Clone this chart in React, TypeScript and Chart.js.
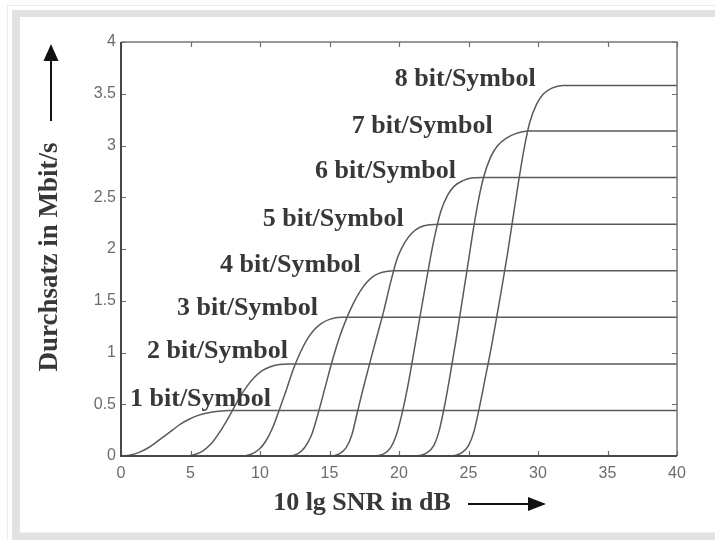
import React, { useEffect, useRef } from "react";
import { Chart, registerables } from "chart.js";

Chart.register(...registerables);

// ---- data ----
const xTicks = [0, 5, 10, 15, 20, 25, 30, 35, 40];
const yTicks = [0, 0.5, 1, 1.5, 2, 2.5, 3, 3.5, 4];

const curveLabels = [
  "1 bit/Symbol",
  "2 bit/Symbol",
  "3 bit/Symbol",
  "4 bit/Symbol",
  "5 bit/Symbol",
  "6 bit/Symbol",
  "7 bit/Symbol",
  "8 bit/Symbol",
];

const snr1 = [0, 0.7, 1.3, 1.9, 2.5, 3.1, 3.7, 4.3, 4.9, 5.5, 6.2, 7.0, 7.8, 40];
const thr1 = [0, 0.01, 0.035, 0.075, 0.13, 0.19, 0.25, 0.31, 0.355, 0.39, 0.415, 0.432, 0.44, 0.44];

const snr2 = [0, 4.6, 5.3, 5.9, 6.5, 7.1, 7.6, 8.1, 8.6, 9.1, 9.6, 10.1, 10.7, 11.4, 12.0, 40];
const thr2 = [0, 0, 0.015, 0.05, 0.12, 0.23, 0.34, 0.46, 0.58, 0.68, 0.76, 0.82, 0.86, 0.883, 0.89, 0.89];

const snr3 = [0, 8.6, 9.3, 9.9, 10.4, 10.9, 11.4, 11.9, 12.4, 12.9, 13.4, 13.9, 14.4, 15.0, 15.8, 40];
const thr3 = [0, 0, 0.015, 0.06, 0.14, 0.27, 0.45, 0.64, 0.84, 1.0, 1.13, 1.22, 1.28, 1.32, 1.34, 1.34];

const snr4 = [0, 12.0, 12.7, 13.2, 13.7, 14.2, 14.7, 15.2, 15.7, 16.2, 16.7, 17.2, 17.7, 18.2, 18.8, 19.6, 40];
const thr4 = [0, 0, 0.02, 0.08, 0.2, 0.42, 0.67, 0.92, 1.14, 1.32, 1.47, 1.59, 1.68, 1.74, 1.775, 1.79, 1.79];

const snr5 = [0, 15.0, 15.7, 16.2, 16.6, 17.0, 17.4, 17.9, 18.4, 18.9, 19.4, 19.9, 20.4, 20.9, 21.5, 22.2, 23.0, 40];
const thr5 = [0, 0, 0.02, 0.08, 0.2, 0.42, 0.64, 0.9, 1.15, 1.4, 1.68, 1.92, 2.06, 2.15, 2.21, 2.235, 2.24, 2.24];

const snr6 = [0, 18.1, 18.9, 19.4, 19.8, 20.2, 20.6, 21.0, 21.5, 22.0, 22.5, 23.0, 23.5, 24.0, 24.6, 25.2, 25.9, 40];
const thr6 = [0, 0, 0.02, 0.08, 0.2, 0.4, 0.65, 0.95, 1.34, 1.72, 2.08, 2.36, 2.52, 2.61, 2.66, 2.685, 2.69, 2.69];

const snr7 = [0, 21.1, 22.0, 22.5, 22.9, 23.3, 23.7, 24.1, 24.5, 24.9, 25.3, 25.7, 26.1, 26.6, 27.1, 27.7, 28.4, 29.3, 40];
const thr7 = [0, 0, 0.03, 0.1, 0.25, 0.5, 0.8, 1.12, 1.46, 1.8, 2.15, 2.46, 2.7, 2.89, 3.0, 3.07, 3.115, 3.14, 3.14];

const snr8 = [0, 23.6, 24.5, 25.0, 25.4, 25.8, 26.2, 26.6, 27.0, 27.4, 27.8, 28.2, 28.6, 29.0, 29.4, 29.9, 30.4, 31.0, 31.8, 40];
const thr8 = [0, 0, 0.03, 0.1, 0.24, 0.48, 0.75, 1.02, 1.32, 1.63, 1.95, 2.3, 2.65, 2.97, 3.22, 3.4, 3.5, 3.555, 3.58, 3.58];

const snrSeries = [snr1, snr2, snr3, snr4, snr5, snr6, snr7, snr8];
const thrSeries = [thr1, thr2, thr3, thr4, thr5, thr6, thr7, thr8];

// label anchors in data coordinates (left edge, vertical centre)
const labelSnr = [0.65, 1.87, 4.03, 7.12, 10.2, 13.96, 16.6, 19.7];
const labelThr = [0.55, 1.01, 1.43, 1.84, 2.29, 2.75, 3.19, 3.64];

const xTitle = "10 lg SNR in dB";
const yTitle = "Durchsatz in Mbit/s";

const W = 715;
const H = 540;

const overlayPlugin = {
  id: "overlay",
  afterDraw(chart: any) {
    const { ctx, chartArea, scales } = chart;
    const xs = scales.x;
    const ys = scales.y;
    const { left, right, top, bottom } = chartArea;
    ctx.save();

    // ticks (inward)
    ctx.strokeStyle = "#6a6a6a";
    ctx.lineWidth = 1.2;
    const tl = 5;
    xTicks.forEach((v) => {
      const px = Math.round(xs.getPixelForValue(v)) + 0.5;
      ctx.beginPath();
      ctx.moveTo(px, bottom);
      ctx.lineTo(px, bottom - tl);
      ctx.moveTo(px, top);
      ctx.lineTo(px, top + tl);
      ctx.stroke();
    });
    yTicks.forEach((v) => {
      const py = Math.round(ys.getPixelForValue(v)) + 0.5;
      ctx.beginPath();
      ctx.moveTo(left, py);
      ctx.lineTo(left + tl, py);
      ctx.moveTo(right, py);
      ctx.lineTo(right - tl, py);
      ctx.stroke();
    });

    // box
    ctx.strokeStyle = "#777";
    ctx.lineWidth = 1.5;
    ctx.beginPath();
    ctx.moveTo(left, top);
    ctx.lineTo(right, top);
    ctx.lineTo(right, bottom);
    ctx.stroke();
    ctx.strokeStyle = "#484848";
    ctx.lineWidth = 2;
    ctx.beginPath();
    ctx.moveTo(left, top);
    ctx.lineTo(left, bottom);
    ctx.lineTo(right, bottom);
    ctx.stroke();

    // curve labels
    ctx.fillStyle = "#383838";
    ctx.font = "bold 26px 'Liberation Serif', 'Times New Roman', serif";
    ctx.textAlign = "left";
    ctx.textBaseline = "middle";
    curveLabels.forEach((t, i) => {
      ctx.fillText(t, xs.getPixelForValue(labelSnr[i]), ys.getPixelForValue(labelThr[i]));
    });

    // x title + arrow
    ctx.textAlign = "center";
    ctx.font = "bold 26px 'Liberation Serif', 'Times New Roman', serif";
    ctx.fillText(xTitle, 362, 503);
    ctx.strokeStyle = "#111";
    ctx.fillStyle = "#111";
    ctx.lineWidth = 2;
    ctx.beginPath();
    ctx.moveTo(468, 504);
    ctx.lineTo(532, 504);
    ctx.stroke();
    ctx.beginPath();
    ctx.moveTo(546, 504);
    ctx.lineTo(528, 497);
    ctx.lineTo(528, 511);
    ctx.closePath();
    ctx.fill();

    // y title + arrow
    ctx.fillStyle = "#383838";
    ctx.save();
    ctx.translate(50, 257);
    ctx.rotate(-Math.PI / 2);
    ctx.font = "bold 27px 'Liberation Serif', 'Times New Roman', serif";
    ctx.textAlign = "center";
    ctx.textBaseline = "middle";
    ctx.fillText(yTitle, 0, 0);
    ctx.restore();
    ctx.fillStyle = "#111";
    ctx.beginPath();
    ctx.moveTo(51, 121);
    ctx.lineTo(51, 58);
    ctx.stroke();
    ctx.beginPath();
    ctx.moveTo(51, 44);
    ctx.lineTo(43.5, 61);
    ctx.lineTo(58.5, 61);
    ctx.closePath();
    ctx.fill();

    ctx.restore();
  },
};

export default function App() {
  const ref = useRef<HTMLCanvasElement | null>(null);

  useEffect(() => {
    document.body.style.margin = "0";
    const canvas = ref.current;
    if (!canvas) return;
    const datasets = snrSeries.map((xs, i) => ({
      label: curveLabels[i],
      data: xs.map((x, j) => ({ x, y: thrSeries[i][j] })),
      borderColor: "#5a5a5a",
      borderWidth: 1.5,
      pointRadius: 0,
      fill: false,
      cubicInterpolationMode: "monotone" as const,
    }));
    const chart = new Chart(canvas, {
      type: "line",
      data: { datasets },
      options: {
        responsive: false,
        animation: false,
        devicePixelRatio: 1,
        layout: { padding: { left: 60, top: 42, right: 38, bottom: 40 } },
        plugins: { legend: { display: false }, tooltip: { enabled: false } },
        scales: {
          x: {
            type: "linear",
            min: 0,
            max: 40,
            ticks: {
              stepSize: 5,
              padding: 8,
              color: "#6c6c6c",
              font: { family: "'Liberation Sans', Arial, sans-serif", size: 16 },
              callback: (v: any) => String(v),
            },
            grid: { display: false, drawTicks: false },
            border: { display: false },
            afterFit: (s: any) => {
              s.height = 44;
            },
          },
          y: {
            type: "linear",
            min: 0,
            max: 4,
            ticks: {
              stepSize: 0.5,
              padding: 5,
              color: "#6c6c6c",
              font: { family: "'Liberation Sans', Arial, sans-serif", size: 16 },
              callback: (v: any) => String(v),
            },
            grid: { display: false, drawTicks: false },
            border: { display: false },
            afterFit: (s: any) => {
              s.width = 61;
            },
          },
        },
      },
      plugins: [overlayPlugin],
    });
    return () => chart.destroy();
  }, []);

  const band = "#e2e2e2";
  return (
    <div style={{ position: "relative", width: W, height: H, background: "#fff", overflow: "hidden" }}>
      <div style={{ position: "absolute", left: 7, top: 5, right: 0, height: 1, background: "#ececec" }} />
      <div style={{ position: "absolute", left: 7, top: 5, width: 1, bottom: 0, background: "#ececec" }} />
      <div style={{ position: "absolute", left: 12, top: 10, right: 0, height: 7, background: band }} />
      <div style={{ position: "absolute", left: 12, top: 10, width: 8, bottom: 0, background: band }} />
      <div style={{ position: "absolute", left: 12, top: 532, right: 0, bottom: 0, background: band }} />
      <div style={{ position: "absolute", left: 20, top: 532, right: 0, height: 1, background: "#eeeeee" }} />
      <canvas ref={ref} width={W} height={H} style={{ position: "absolute", left: 0, top: 0 }} />
    </div>
  );
}
